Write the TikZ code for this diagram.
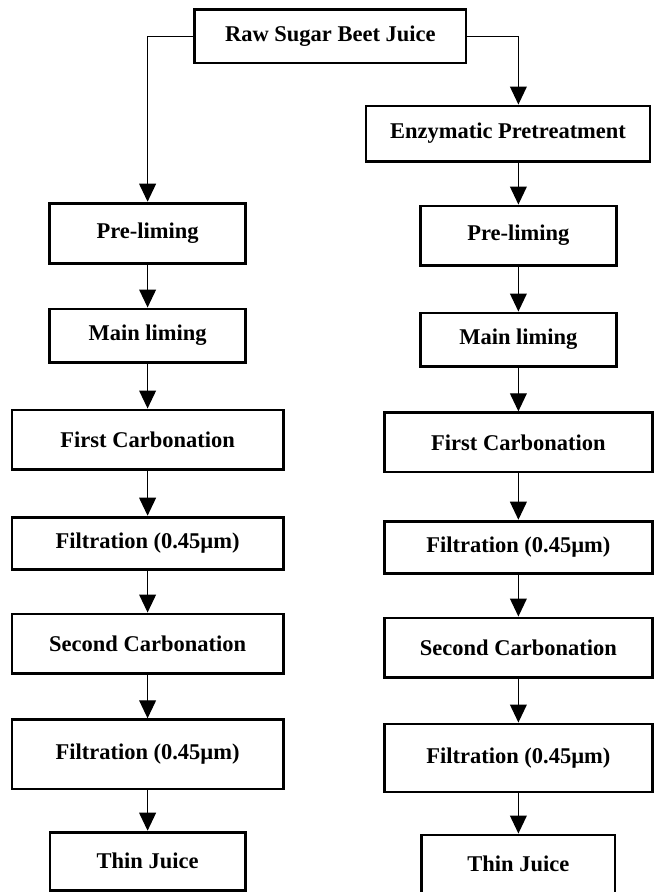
\documentclass[tikz,border=0pt]{standalone}
\usepackage{fontspec}
\setmainfont{Liberation Serif}
\usetikzlibrary{arrows.meta}
\begin{document}
\begin{tikzpicture}[>={Triangle[length=0.45cm,width=0.42cm]}, line width=0.9pt,
  box/.style={draw, line width=2.1pt, inner sep=0pt, minimum width=4.9cm,
    font=\fontsize{16}{19}\selectfont\bfseries},
  wide/.style={box, minimum width=6.78cm}]
\useasboundingbox (0,0) rectangle (16.425,-22.3);

\node [wide, minimum height=1.33cm] (raw) at (8.26,-0.91){Raw Sugar Beet Juice};

% left: untreated juice
\node [box, minimum height=1.5cm] (preL) at (3.69,-5.83){Pre-liming};
\node [box, minimum height=1.33cm] (mainL) at (3.69,-8.39){Main liming};
\node [wide, minimum height=1.48cm] (carbAL) at (3.69,-10.99){First Carbonation};
\node [wide, minimum height=1.3cm] (filtAL) at (3.69,-13.58){Filtration (0.45µm)};
\node [wide, minimum height=1.48cm] (carbBL) at (3.69,-16.09){Second Carbonation};
\node [wide, minimum height=1.73cm] (filtBL) at (3.69,-18.86){Filtration (0.45µm)};
\node [box, minimum width=4.88cm, minimum height=1.45cm] (thinL) at (3.69,-21.53){Thin Juice};

% right: enzymatic pretreatment
\node [box, minimum width=7.1cm, minimum height=1.38cm] (enz) at (12.7,-3.34){Enzymatic Pretreatment};
\node [box, minimum height=1.48cm] (preR) at (12.96,-5.89){Pre-liming};
\node [box, minimum height=1.33cm] (mainR) at (12.96,-8.49){Main liming};
\node [wide, minimum width=6.7cm, minimum height=1.48cm] (carbAR) at (12.96,-11.06){First Carbonation};
\node [wide, minimum width=6.7cm, minimum height=1.3cm] (filtAR) at (12.96,-13.68){Filtration (0.45µm)};
\node [wide, minimum width=6.7cm, minimum height=1.48cm] (carbBR) at (12.96,-16.19){Second Carbonation};
\node [wide, minimum width=6.7cm, minimum height=1.7cm] (filtBR) at (12.96,-18.95){Filtration (0.45µm)};
\node [box, minimum width=4.83cm, minimum height=1.45cm] (thinR) at (12.96,-21.6){Thin Juice};

\draw [->] (raw.west) -| (preL.north);
\draw [->] (raw.east) -| (enz.north -| preR.north);
\draw [->] (enz.south -| preR.north) -- (preR.north);

\foreach \a/\b in {preL/mainL, mainL/carbAL, carbAL/filtAL, filtAL/carbBL, carbBL/filtBL, filtBL/thinL,
  preR/mainR, mainR/carbAR, carbAR/filtAR, filtAR/carbBR, carbBR/filtBR, filtBR/thinR}
  \draw [->] (\a.south) -- (\b.north);
\end{tikzpicture}
\end{document}
